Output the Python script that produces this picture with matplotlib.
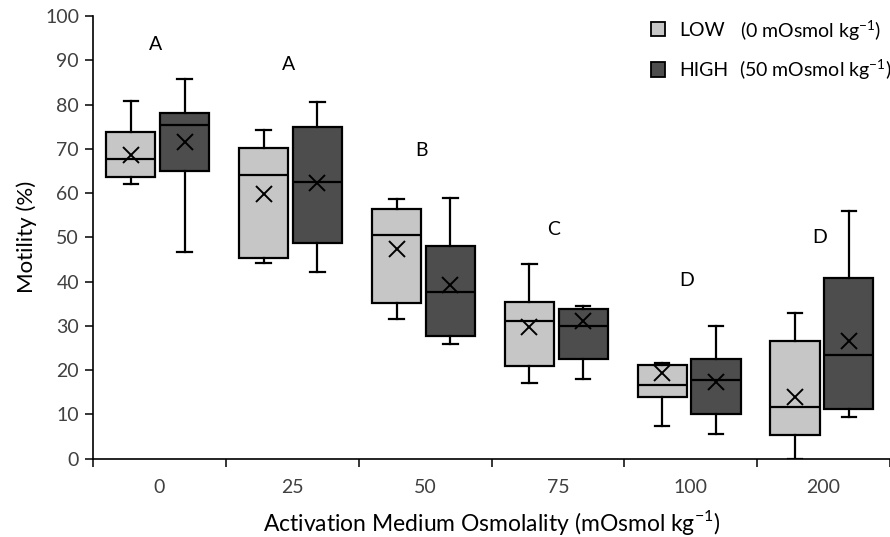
import numpy as np
import matplotlib
matplotlib.use("Agg")
import matplotlib.pyplot as plt
from matplotlib.patches import Patch

plt.rcParams["font.family"] = ["Lato", "DejaVu Sans"]
plt.rcParams["mathtext.fontset"] = "custom"
plt.rcParams["mathtext.rm"] = "Lato"

categories = ["0", "25", "50", "75", "100", "200"]
letters = ["A", "A", "B", "C", "D", "D"]
letter_y = [93.6, 89.1, 69.7, 51.8, 40.3, 50.0]

# LOW (0 mOsmol kg-1)
low_min  = [62.0, 44.2, 31.5, 17.0, 7.3, 0.0]
low_q1   = [63.6, 45.4, 35.2, 21.0, 14.0, 5.3]
low_med  = [67.7, 64.0, 50.6, 31.2, 16.6, 11.7]
low_q3   = [73.9, 70.3, 56.4, 35.3, 21.2, 26.6]
low_max  = [80.8, 74.2, 58.7, 43.9, 21.7, 33.0]
low_mean = [68.7, 59.7, 47.4, 29.7, 19.4, 14.0]

# HIGH (50 mOsmol kg-1)
high_min  = [46.7, 42.1, 25.8, 18.1, 5.5, 9.3]
high_q1   = [65.1, 48.8, 27.7, 22.6, 10.1, 11.2]
high_med  = [75.4, 62.5, 37.6, 30.0, 17.7, 23.3]
high_q3   = [78.1, 74.9, 48.1, 33.7, 22.4, 40.8]
high_max  = [85.9, 80.5, 58.9, 34.5, 30.0, 55.9]
high_mean = [71.5, 62.2, 39.2, 31.2, 17.2, 26.6]

LIGHT, DARK = "#c6c6c6", "#4d4d4d"
TICKC = "#404040"


def make_stats(mn, q1, med, q3, mx, mean):
    return [dict(whislo=a, q1=b, med=c, q3=d, whishi=e, mean=f, fliers=[])
            for a, b, c, d, e, f in zip(mn, q1, med, q3, mx, mean)]


fig = plt.figure(figsize=(8.9, 5.37), dpi=100)
ax = fig.add_axes([0.1045, 0.146, 0.8955, 0.824])

x = np.arange(len(categories))
for stats, offset, color in [
    (make_stats(low_min, low_q1, low_med, low_q3, low_max, low_mean), -0.215, LIGHT),
    (make_stats(high_min, high_q1, high_med, high_q3, high_max, high_mean), 0.19, DARK),
]:
    ax.bxp(stats, positions=x + offset, widths=0.37, capwidths=0.11,
           patch_artist=True, showmeans=True, manage_ticks=False,
           boxprops=dict(facecolor=color, edgecolor="black", linewidth=1.6),
           medianprops=dict(color="black", linewidth=1.6),
           whiskerprops=dict(color="black", linewidth=1.6),
           capprops=dict(color="black", linewidth=1.6),
           meanprops=dict(marker="x", markersize=11, markeredgecolor="black",
                          markeredgewidth=1.4))

for xi, lt, ly in zip(x, letters, letter_y):
    ax.text(xi - 0.03, ly, lt, ha="center", va="center", fontsize=14, color="black")

ax.set_xlim(-0.5, 5.5)
ax.set_ylim(0, 100)
ax.set_yticks(np.arange(0, 101, 10))
ax.tick_params(axis="y", labelsize=14, labelcolor=TICKC, length=6, width=1.1, pad=4)
ax.set_xticks(np.arange(-0.5, 5.6, 1.0))
ax.set_xticklabels([])
ax.set_xticks(x, minor=True)
ax.set_xticklabels(categories, minor=True)
ax.tick_params(axis="x", which="major", length=6, width=1.1, direction="out")
ax.tick_params(axis="x", which="minor", length=0, pad=15, labelsize=14, labelcolor=TICKC)

for s in ["top", "right"]:
    ax.spines[s].set_visible(False)
for s in ["left", "bottom"]:
    ax.spines[s].set_linewidth(1.2)

ax.set_ylabel("Motility (%)", fontsize=16, labelpad=6)
ax.set_xlabel("Activation Medium Osmolality (mOsmol kg$^{-1}$)", fontsize=16.5, labelpad=8)

handles = [Patch(facecolor=LIGHT, edgecolor="black", linewidth=1.3),
           Patch(facecolor=DARK, edgecolor="black", linewidth=1.3)]
fig.legend(handles, ["LOW", "HIGH"], loc="upper left", bbox_to_anchor=(0.731, 0.959),
           frameon=False, fontsize=14, handlelength=0.75, handleheight=0.75,
           labelspacing=1.2, handletextpad=0.7, borderpad=0, borderaxespad=0)
fig.text(0.832, 0.943, "(0 mOsmol kg$^{-1}$)", fontsize=14, va="center", ha="left")
fig.text(0.830, 0.870, "(50 mOsmol kg$^{-1}$)", fontsize=14, va="center", ha="left")

fig.savefig("out.png", dpi=100)
